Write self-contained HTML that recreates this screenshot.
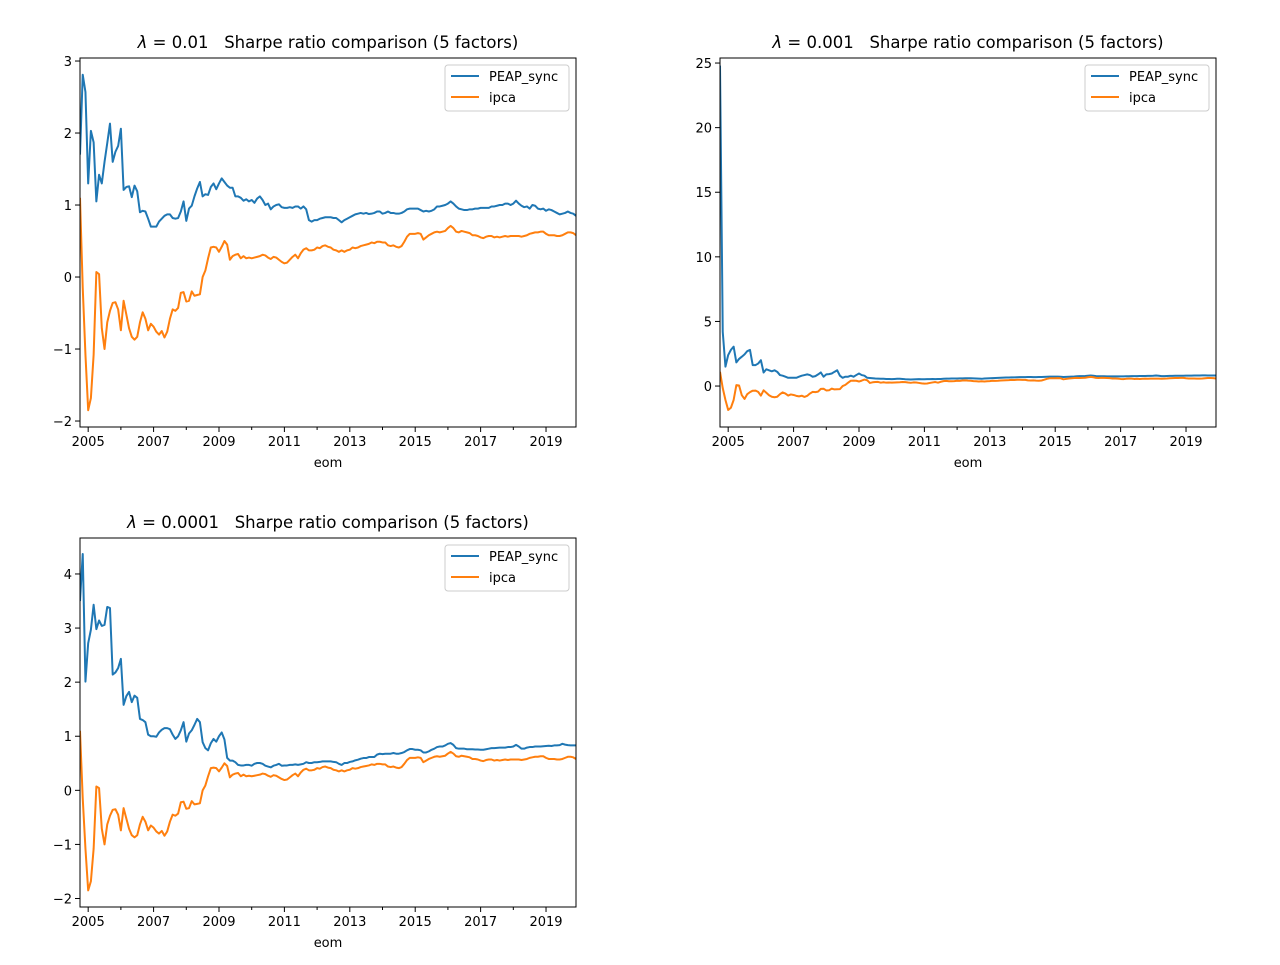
<!DOCTYPE html>
<html><head><meta charset="utf-8"><style>
body{margin:0;background:#fff;}
svg text{font-family:"DejaVu Sans","Liberation Sans",sans-serif;fill:#000;}
</style></head><body>
<svg id="fig" width="1280" height="960" viewBox="0 0 1280 960" xmlns="http://www.w3.org/2000/svg">
<rect width="1280" height="960" fill="#fff"/>
</svg>
<script>
const ipca=[1.1,-0.15,-1.08,-1.85,-1.68,-1.08,0.07,0.04,-0.71,-1.0,-0.63,-0.47,
-0.36,-0.35,-0.45,-0.74,-0.33,-0.52,-0.71,-0.83,-0.87,-0.83,-0.63,-0.49,
-0.58,-0.74,-0.65,-0.69,-0.76,-0.8,-0.75,-0.84,-0.76,-0.58,-0.45,-0.47,
-0.43,-0.22,-0.21,-0.34,-0.33,-0.2,-0.26,-0.25,-0.24,0.0,0.09,0.26,
0.41,0.42,0.41,0.35,0.42,0.5,0.45,0.24,0.29,0.31,0.32,0.26,0.29,
0.26,0.27,0.26,0.27,0.28,0.29,0.31,0.30,0.27,0.25,0.28,0.27,0.24,0.21,0.19,0.2,0.24,0.28,0.31,0.26,0.33,0.38,0.40,
0.37,0.37,0.38,0.41,0.40,0.43,0.44,0.42,0.41,0.38,0.37,0.35,0.37,0.35,0.37,0.38,
0.41,0.40,0.41,0.43,0.44,0.45,0.46,0.48,0.47,0.49,0.49,0.48,0.48,0.44,0.43,0.44,0.42,0.41,0.43,0.49,
0.56,0.60,0.60,0.60,0.61,0.60,0.52,0.55,0.58,0.60,0.62,0.63,0.62,0.63,0.64,0.68,0.71,0.68,0.63,0.62,
0.64,0.63,0.62,0.61,0.58,0.58,0.57,0.55,0.54,0.56,0.57,0.57,0.55,0.56,0.55,0.56,0.57,0.56,0.57,0.57,
0.57,0.57,0.56,0.57,0.58,0.60,0.61,0.62,0.62,0.63,0.63,0.60,0.58,0.58,0.58,0.57,0.57,0.58,0.60,0.62,0.62,0.61,0.58];
const peap1=[1.7,2.81,2.57,1.30,2.03,1.87,1.05,1.42,1.30,1.6,1.86,2.13,
1.6,1.74,1.82,2.06,1.21,1.25,1.26,1.11,1.27,1.19,0.90,0.92,
0.91,0.81,0.70,0.70,0.70,0.77,0.81,0.85,0.87,0.87,0.82,0.81,
0.82,0.91,1.05,0.78,0.95,0.99,1.12,1.23,1.32,1.12,1.15,1.14,
1.25,1.30,1.22,1.30,1.37,1.32,1.27,1.24,1.24,1.12,1.12,1.10,1.06,
1.08,1.05,1.07,1.03,1.09,1.12,1.07,1.0,1.02,0.94,0.98,1.0,1.01,0.97,0.96,0.96,0.97,0.96,0.98,0.98,0.95,0.98,0.94,
0.79,0.77,0.79,0.79,0.81,0.82,0.83,0.83,0.83,0.82,0.82,0.79,0.76,0.79,0.81,0.83,
0.85,0.87,0.88,0.89,0.88,0.89,0.875,0.88,0.89,0.91,0.91,0.88,0.89,0.91,0.89,0.89,0.88,0.88,0.89,0.91,
0.94,0.95,0.95,0.95,0.95,0.93,0.91,0.92,0.91,0.92,0.94,0.98,0.98,0.99,1.0,1.02,1.05,1.02,0.98,0.95,
0.94,0.93,0.93,0.94,0.94,0.95,0.95,0.96,0.96,0.96,0.96,0.98,0.98,0.99,1.0,1.0,1.02,1.02,1.0,1.02,
1.06,1.02,0.99,0.97,0.98,0.95,1.0,0.99,0.95,0.94,0.95,0.92,0.94,0.93,0.91,0.89,0.87,0.88,0.89,0.91,0.89,0.88,0.85];
const peap2=[24.8,4.2,1.5,2.4,2.8,3.05,1.83,2.1,2.27,2.45,2.7,2.8,
1.62,1.62,1.74,2.0,1.05,1.3,1.22,1.14,1.22,1.1,0.85,0.8,
0.72,0.64,0.64,0.64,0.64,0.72,0.8,0.85,0.9,0.85,0.72,0.77,
0.9,1.05,0.72,0.9,0.92,0.97,1.1,1.22,0.8,0.64,0.72,0.72,
0.8,0.72,0.85,0.97,0.85,0.8,0.64,0.62,0.6,
0.58,0.57,0.56,0.56,0.55,0.55,0.54,0.55,0.56,0.56,0.55,0.53,0.52,0.51,0.52,0.53,0.54,0.53,0.53,0.54,0.54,0.55,0.54,0.55,0.55,0.56,
0.57,0.57,0.58,0.58,0.58,0.59,0.59,0.6,0.6,0.6,0.59,0.58,0.57,0.56,0.58,0.59,0.6,0.61,0.62,0.63,0.64,0.65,0.66,0.66,0.67,0.67,0.68,0.69,0.69,0.69,0.7,0.7,0.69,0.69,0.7,0.7,0.71,
0.72,0.73,0.73,0.73,0.73,0.72,0.7,0.71,0.72,0.73,0.74,0.76,0.77,0.77,0.78,0.8,0.82,0.8,0.77,0.76,
0.76,0.76,0.75,0.75,0.75,0.75,0.75,0.75,0.75,0.76,0.76,0.77,0.77,0.77,0.78,0.78,0.78,0.79,0.79,0.8,
0.82,0.8,0.77,0.77,0.78,0.79,0.79,0.8,0.8,0.8,0.8,0.81,0.81,0.81,0.82,0.82,0.82,0.83,0.83,0.82,0.82,0.82,0.82];
const peap3=[3.5,4.37,2.01,2.72,2.97,3.43,2.98,3.14,3.04,3.06,3.39,3.37,
2.14,2.18,2.26,2.43,1.58,1.74,1.82,1.63,1.75,1.71,1.32,1.30,
1.26,1.03,1.0,1.0,0.99,1.07,1.12,1.15,1.15,1.13,1.03,0.95,
1.0,1.11,1.26,0.9,1.05,1.11,1.21,1.32,1.26,0.89,0.78,0.74,
0.87,0.95,0.9,1.0,1.07,0.94,0.60,0.55,0.55,0.52,0.47,0.46,0.46,
0.47,0.47,0.455,0.49,0.505,0.505,0.49,0.455,0.44,0.425,0.455,0.47,0.49,0.455,0.46,0.46,0.47,0.47,0.48,0.47,0.48,0.49,
0.52,0.505,0.505,0.52,0.52,0.525,0.535,0.535,0.535,0.535,0.525,0.52,0.49,0.47,0.505,0.505,0.525,
0.535,0.554,0.566,0.585,0.597,0.597,0.616,0.616,0.616,0.66,0.677,0.67,0.677,0.677,0.677,0.69,0.677,0.677,0.69,0.708,
0.74,0.763,0.763,0.75,0.75,0.74,0.70,0.70,0.72,0.75,0.77,0.80,0.81,0.81,0.83,0.86,0.874,0.84,0.78,0.77,
0.77,0.77,0.76,0.76,0.76,0.755,0.755,0.75,0.75,0.76,0.77,0.78,0.78,0.785,0.79,0.79,0.79,0.80,0.80,0.81,
0.84,0.81,0.77,0.77,0.79,0.80,0.80,0.81,0.81,0.81,0.815,0.82,0.825,0.82,0.83,0.83,0.835,0.86,0.845,0.835,0.83,0.83,0.83];
const majorYears=[2005,2007,2009,2011,2013,2015,2017,2019];
const minorYears=[2006,2008,2010,2012,2014,2016,2018];
const yTicks1=[-2,-1,0,1,2,3];
const yTicks2=[0,5,10,15,20,25];
const yTicks3=[-2,-1,0,1,2,3,4];
const lambdas=["0.01","0.001","0.0001"];
const seriesNames=["PEAP_sync","ipca"];

const NS="http://www.w3.org/2000/svg";
const svg=document.getElementById('fig');
const START_YEAR=2004, START_MONTH=9, NMONTHS=182;
function mk(tag,attrs,parent){const e=document.createElementNS(NS,tag);for(const k in attrs)e.setAttribute(k,attrs[k]);(parent||svg).appendChild(e);return e;}

function panel(p){
  const g=mk('g',{});
  
  
  const L=p.x0,R=p.x1,T=p.y0,B=p.y1;
  const xs=i=>L+(R-L)*i/NMONTHS;
  const ys=v=>T+(p.ymax-v)/(p.ymax-p.ymin)*(B-T);
  const clip=mk('clipPath',{id:'clip'+p.id},g);
  mk('rect',{x:L,y:T,width:R-L,height:B-T},clip);
  // series
  const cols=['#1f77b4','#ff7f0e'];
  [p.blue,ipca].forEach((arr,k)=>{
    const d=arr.map((v,i)=>(i?'L':'M')+xs(i).toFixed(2)+','+ys(v).toFixed(2)).join('');
    const path=mk('path',{d:d,fill:'none',stroke:cols[k],'stroke-width':2,'stroke-linejoin':'round','clip-path':'url(#clip'+p.id+')'},g);
    
    
  });
  // frame
  const fr=mk('rect',{x:L,y:T,width:R-L,height:B-T,fill:'none',stroke:'#000','stroke-width':1},g);
  
  
  // x ticks
  majorYears.forEach(yr=>{
    const i=(yr-START_YEAR)*12-START_MONTH;const x=xs(i);
    mk('line',{x1:x,y1:B,x2:x,y2:B+5,stroke:'#000','stroke-width':1},g);
    const t=mk('text',{x:x,y:B+19,'font-size':13,'text-anchor':'middle'},g);
    t.textContent=yr;
    
    
  });
  minorYears.forEach(yr=>{
    const i=(yr-START_YEAR)*12-START_MONTH;const x=xs(i);
    mk('line',{x1:x,y1:B,x2:x,y2:B+3,stroke:'#000','stroke-width':1},g);
  });
  const xl=mk('text',{x:(L+R)/2,y:B+40,'font-size':13,'text-anchor':'middle'},g);
  xl.textContent='eom';
  
  
  // y ticks
  p.yt.forEach(v=>{
    const y=ys(v);
    mk('line',{x1:L-5,y1:y,x2:L,y2:y,stroke:'#000','stroke-width':1},g);
    const t=mk('text',{x:L-8,y:y+5,'font-size':13,'text-anchor':'end'},g);
    t.textContent=v<0?'\u2212'+(-v):String(v);
    
    
  });
  // title
  const tt=mk('text',{x:(L+R)/2,y:T-10,'font-size':16.5,'text-anchor':'middle'},g);
  
  
  const ts=mk('tspan',{'font-style':'italic'},tt);ts.textContent='\u03bb';
  const ts2=mk('tspan',{},tt);ts2.textContent=' = '+p.lam+'   Sharpe ratio comparison (5 factors)';
  ts2.setAttribute('xml:space','preserve');
  tt.setAttribute('style','white-space:pre');
  // legend
  const lg=mk('g',{},g);
  
  
  const lx=R-131,ly=T+7;
  mk('rect',{x:lx,y:ly,width:124,height:46,rx:3,fill:'#fff','fill-opacity':0.8,stroke:'#ccc','stroke-width':1},lg);
  seriesNames.forEach((n,k)=>{
    const yy=ly+11+k*21;
    mk('line',{x1:lx+6,y1:yy,x2:lx+34,y2:yy,stroke:cols[k],'stroke-width':2},lg);
    const t=mk('text',{x:lx+44,y:yy+5,'font-size':13},lg);
    t.textContent=n;
    
    
  });
}
panel({id:1,x0:80,x1:576,y0:58,y1:427,ymin:-2.083,ymax:3.042,yt:yTicks1,blue:peap1,lam:lambdas[0]});
panel({id:2,x0:720,x1:1216,y0:58,y1:427,ymin:-3.17,ymax:25.39,yt:yTicks2,blue:peap2,lam:lambdas[1]});
panel({id:3,x0:80,x1:576,y0:538,y1:907,ymin:-2.157,ymax:4.665,yt:yTicks3,blue:peap3,lam:lambdas[2]});
</script>
</body></html>
